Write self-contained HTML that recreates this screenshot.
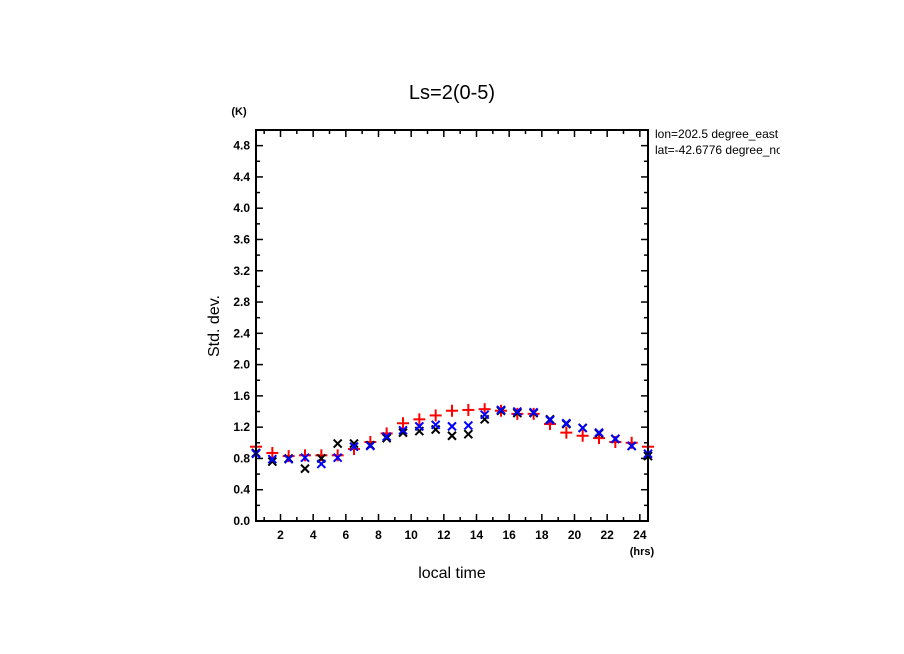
<!DOCTYPE html>
<html><head><meta charset="utf-8"><style>
html,body{margin:0;padding:0;background:#fff;}
svg{display:block;font-family:"Liberation Sans",sans-serif;}
</style></head><body>
<svg id="chart" width="904" height="654" viewBox="0 0 904 654">
<rect width="904" height="654" fill="#fff"/>
<text x="452" y="99" font-size="20" text-anchor="middle">Ls=2(0-5)</text>
<text x="239" y="115" font-size="11" font-weight="bold" text-anchor="middle">(K)</text>
<text transform="translate(219,326) rotate(-90)" font-size="16" text-anchor="middle">Std. dev.</text>
<text x="452" y="578" font-size="16" text-anchor="middle">local time</text>
<text x="642" y="555" font-size="11" font-weight="bold" text-anchor="middle">(hrs)</text>
<svg x="655" y="126" width="125" height="34" overflow="hidden">
<text x="0" y="12" font-size="12">lon=202.5 degree_east</text>
<text x="0" y="28" font-size="12">lat=-42.6776 degree_north</text>
</svg>
<g id="axes"></g>
<g id="marks"></g>
<rect x="256" y="130" width="392" height="391" fill="none" stroke="#000" stroke-width="2"/>
</svg>
<script>
const hours = [0.5,1.5,2.5,3.5,4.5,5.5,6.5,7.5,8.5,9.5,10.5,11.5,12.5,13.5,14.5,15.5,16.5,17.5,18.5,19.5,20.5,21.5,22.5,23.5,24.5];
const redPlus = [0.95,0.87,0.83,0.84,0.84,0.84,0.92,1.01,1.12,1.25,1.30,1.35,1.41,1.42,1.43,1.41,1.37,1.37,1.24,1.13,1.09,1.06,1.01,1.00,0.95];
const blackCross = [0.87,0.76,0.80,0.67,0.80,0.99,0.99,0.97,1.06,1.13,1.15,1.17,1.09,1.11,1.30,1.41,1.38,1.38,1.30,1.24,1.19,1.12,1.05,0.96,0.83];
const blueCross = [0.86,0.79,0.79,0.81,0.73,0.81,0.95,0.96,1.08,1.16,1.21,1.23,1.21,1.22,1.36,1.42,1.40,1.39,1.29,1.25,1.19,1.13,1.05,0.96,0.86];
const yTickLabels = ["0.0","0.4","0.8","1.2","1.6","2.0","2.4","2.8","3.2","3.6","4.0","4.4","4.8"];
const xTickLabels = ["2","4","6","8","10","12","14","16","18","20","22","24"];

const X0=256,X1=648,Y0=521,Y1=130;
const xs = h => X0 + (h-0.5)/24*(X1-X0);
const ys = v => Y0 - v/5*(Y0-Y1);
const NS="http://www.w3.org/2000/svg";
const axes=document.getElementById('axes'), marks=document.getElementById('marks');
function mk(tag,attrs,parent){const e=document.createElementNS(NS,tag);for(const k in attrs)e.setAttribute(k,attrs[k]);parent.appendChild(e);return e;}
function line(x1,y1,x2,y2,parent,c,w){return mk('line',{x1:x1,y1:y1,x2:x2,y2:y2,stroke:c||'#000','stroke-width':w||1.5},parent);}

for(let i=0;i<=25;i++){
  const v=i*0.2, y=ys(v), L=(i%2===0)?7:4;
  const t1=line(X0,y,X0+L,y,axes);
  
  
  const t2=line(X1,y,X1-L,y,axes);
  
  
}
yTickLabels.forEach(s=>{
  const t=mk('text',{x:X0-6,y:ys(parseFloat(s))+4,'font-size':12,'font-weight':'bold','text-anchor':'end'},axes);
  t.textContent=s;
  
  
});
for(let h=1;h<=24;h++){
  const x=xs(h), L=(h%2===0)?7:4;
  const t1=line(x,Y0,x,Y0-L,axes);
  
  
  const t2=line(x,Y1,x,Y1+L,axes);
  
  
}
xTickLabels.forEach(s=>{
  const t=mk('text',{x:xs(parseFloat(s)),y:Y0+18,'font-size':12,'font-weight':'bold','text-anchor':'middle'},axes);
  t.textContent=s;
  
  
});
function cross(x,y,c,parent){const g=mk('g',{},parent);line(x-4,y-4,x+4,y+4,g,c,2);line(x-4,y+4,x+4,y-4,g,c,2);return g;}
function plus(x,y,c,parent){const g=mk('g',{},parent);line(x-6,y,x+6,y,g,c,2);line(x,y-6,x,y+6,g,c,2);return g;}
hours.forEach((h,i)=>{
  const g=plus(xs(h),ys(redPlus[i]),'#f00',marks);
  
  
});
hours.forEach((h,i)=>{
  const g=cross(xs(h),ys(blackCross[i]),'#000',marks);
  
  
});
hours.forEach((h,i)=>{
  const g=cross(xs(h),ys(blueCross[i]),'#00f',marks);
  
  
});
</script>
</body></html>
